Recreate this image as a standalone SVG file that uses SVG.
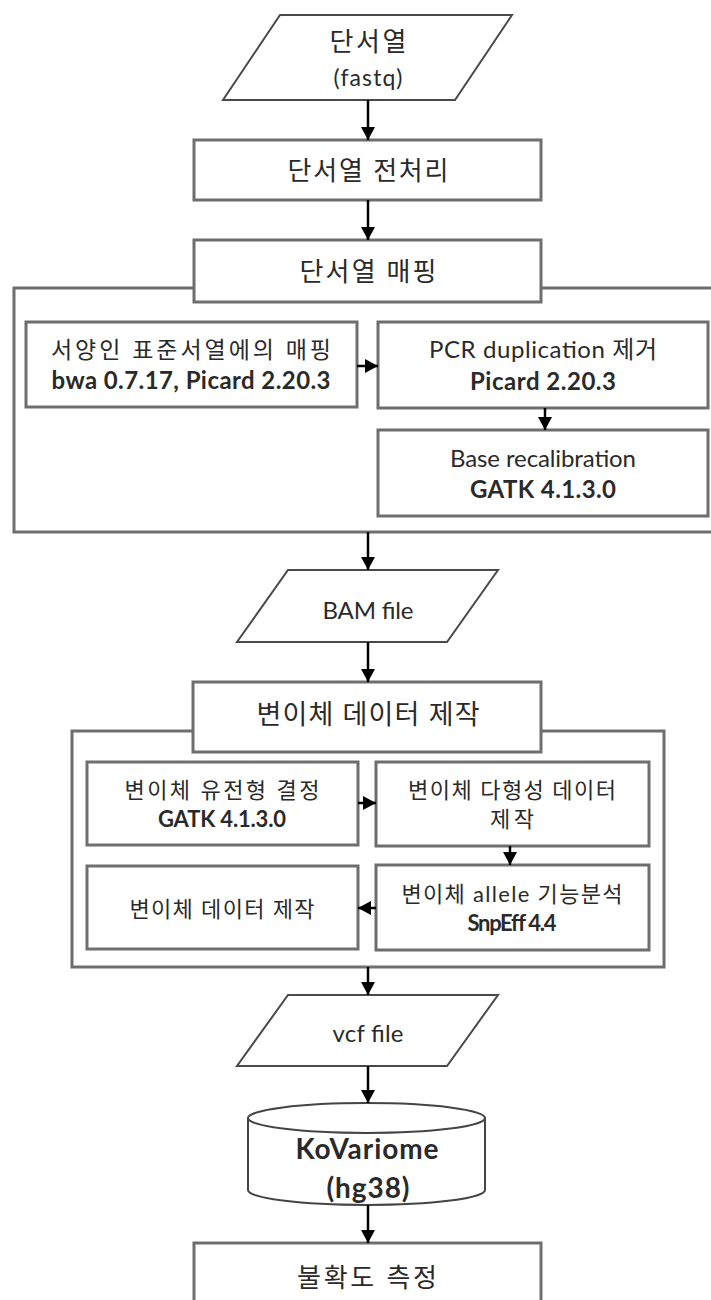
<svg xmlns="http://www.w3.org/2000/svg" width="711" height="1300" viewBox="0 0 711 1300">
<defs>
<style>
.box{fill:#fff;stroke:#6e6e6e;stroke-width:3}
.cont{fill:none;stroke:#6e6e6e;stroke-width:3}
.para{fill:#fff;stroke:#4a4a4a;stroke-width:2}
.cyl{fill:#fff;stroke:#444;stroke-width:2}
.t{font-family:Lato,"Noto Sans CJK KR",sans-serif;fill:#2a2a2a;text-anchor:middle;dominant-baseline:central}
.l{font-family:Lato,"Noto Sans CJK KR",sans-serif;fill:#2a2a2a;text-anchor:middle;dominant-baseline:central}
.b{font-weight:bold}
.conn{stroke:#000;stroke-width:2.5;fill:none;marker-end:url(#ah)}
</style>
<marker id="ah" markerUnits="userSpaceOnUse" markerWidth="14" markerHeight="14" refX="13" refY="7" orient="auto">
<path d="M0,0 L13,7 L0,14 z" fill="#000"/>
</marker>
</defs>
<rect width="711" height="1300" fill="#fff"/>

<g id="n-fastq">
<polygon class="para" points="280,15 512,15 455,100 223,100"/>
<text class="t" x="368" y="41" font-size="26" textLength="77">단서열</text>
<text class="l" x="368" y="77" font-size="23" textLength="69">(fastq)</text>
</g>

<g id="n-preprocess">
<rect class="box" x="194" y="140" width="347" height="60"/>
<text class="t" x="368" y="170" font-size="26" textLength="161">단서열 전처리</text>
</g>

<g id="c-mapping">
<rect class="cont" x="14" y="288" width="710" height="244"/>
</g>
<g id="n-mapping">
<rect class="box" x="194" y="240" width="347" height="62"/>
<text class="t" x="368" y="271" font-size="26" textLength="137">단서열 매핑</text>
</g>

<g id="n-map-ref">
<rect class="box" x="26" y="322" width="331" height="85"/>
<text class="t" x="191" y="349" font-size="23" textLength="280">서양인 표준서열에의 매핑</text>
<text class="l b" x="191" y="379" font-size="24" textLength="279">bwa 0.7.17, Picard 2.20.3</text>
</g>

<g id="n-pcr">
<rect class="box" x="378" y="322" width="330" height="86"/>
<text class="l" x="543" y="348" font-size="24" textLength="228">PCR duplication 제거</text>
<text class="l b" x="543" y="380" font-size="24" textLength="146">Picard 2.20.3</text>
</g>

<g id="n-bqsr">
<rect class="box" x="378" y="430" width="330" height="86"/>
<text class="l" x="543" y="457" font-size="24" textLength="186">Base recalibration</text>
<text class="l b" x="543" y="488" font-size="24" textLength="146">GATK 4.1.3.0</text>
</g>

<g id="n-bam">
<polygon class="para" points="288,570 498,570 447,642 237,642"/>
<text class="l" x="368" y="609" font-size="24" textLength="91">BAM file</text>
</g>

<g id="c-variant">
<rect class="cont" x="72" y="731" width="592" height="236"/>
</g>
<g id="n-variant">
<rect class="box" x="193" y="682" width="348" height="70"/>
<text class="t" x="368" y="713" font-size="27" textLength="223">변이체 데이터 제작</text>
</g>

<g id="n-genotype">
<rect class="box" x="87" y="762" width="271" height="83"/>
<text class="t" x="222" y="789" font-size="22" textLength="195">변이체 유전형 결정</text>
<text class="l b" x="222" y="818" font-size="22" textLength="128">GATK 4.1.3.0</text>
</g>

<g id="n-poly">
<rect class="box" x="376" y="762" width="273" height="84"/>
<text class="t" x="512" y="789" font-size="22" textLength="208">변이체 다형성 데이터</text>
<text class="t" x="512" y="818" font-size="22" textLength="44">제작</text>
</g>

<g id="n-variant-data">
<rect class="box" x="87" y="866" width="271" height="83"/>
<text class="t" x="222" y="908" font-size="22" textLength="185">변이체 데이터 제작</text>
</g>

<g id="n-allele">
<rect class="box" x="376" y="865" width="273" height="85"/>
<text class="l" x="512" y="893" font-size="22" textLength="221">변이체 allele 기능분석</text>
<text class="l b" x="512" y="922" font-size="22" textLength="89">SnpEff 4.4</text>
</g>

<g id="n-vcf">
<polygon class="para" points="288,995 498,995 447,1066 237,1066"/>
<text class="l" x="368" y="1032" font-size="24" textLength="71">vcf file</text>
</g>

<g id="n-kovariome">
<path class="cyl" d="M248,1118 L248,1190 A118.5,15 0 0 0 485,1190 L485,1118"/>
<ellipse class="cyl" cx="366.5" cy="1118" rx="118.5" ry="15"/>
<text class="l b" x="367" y="1148" font-size="28" textLength="143">KoVariome</text>
<text class="l b" x="368" y="1187" font-size="28" textLength="83">(hg38)</text>
</g>

<g id="n-uncertainty">
<rect class="box" x="194" y="1243" width="347" height="70"/>
<text class="t" x="367" y="1277" font-size="26" textLength="140">불확도 측정</text>
</g>

<g id="connectors">
<line class="conn" x1="368" y1="100" x2="368" y2="140"/>
<line class="conn" x1="368" y1="200" x2="368" y2="240"/>
<line class="conn" x1="357" y1="366" x2="378" y2="366"/>
<line class="conn" x1="545" y1="408" x2="545" y2="430"/>
<line class="conn" x1="368" y1="532" x2="368" y2="570"/>
<line class="conn" x1="368" y1="642" x2="368" y2="682"/>
<line class="conn" x1="358" y1="803" x2="376" y2="803"/>
<line class="conn" x1="510" y1="846" x2="510" y2="865"/>
<line class="conn" x1="376" y1="908" x2="358" y2="908"/>
<line class="conn" x1="368" y1="967" x2="368" y2="995"/>
<line class="conn" x1="368" y1="1066" x2="368" y2="1103"/>
<line class="conn" x1="368" y1="1205" x2="368" y2="1243"/>
</g>
</svg>
